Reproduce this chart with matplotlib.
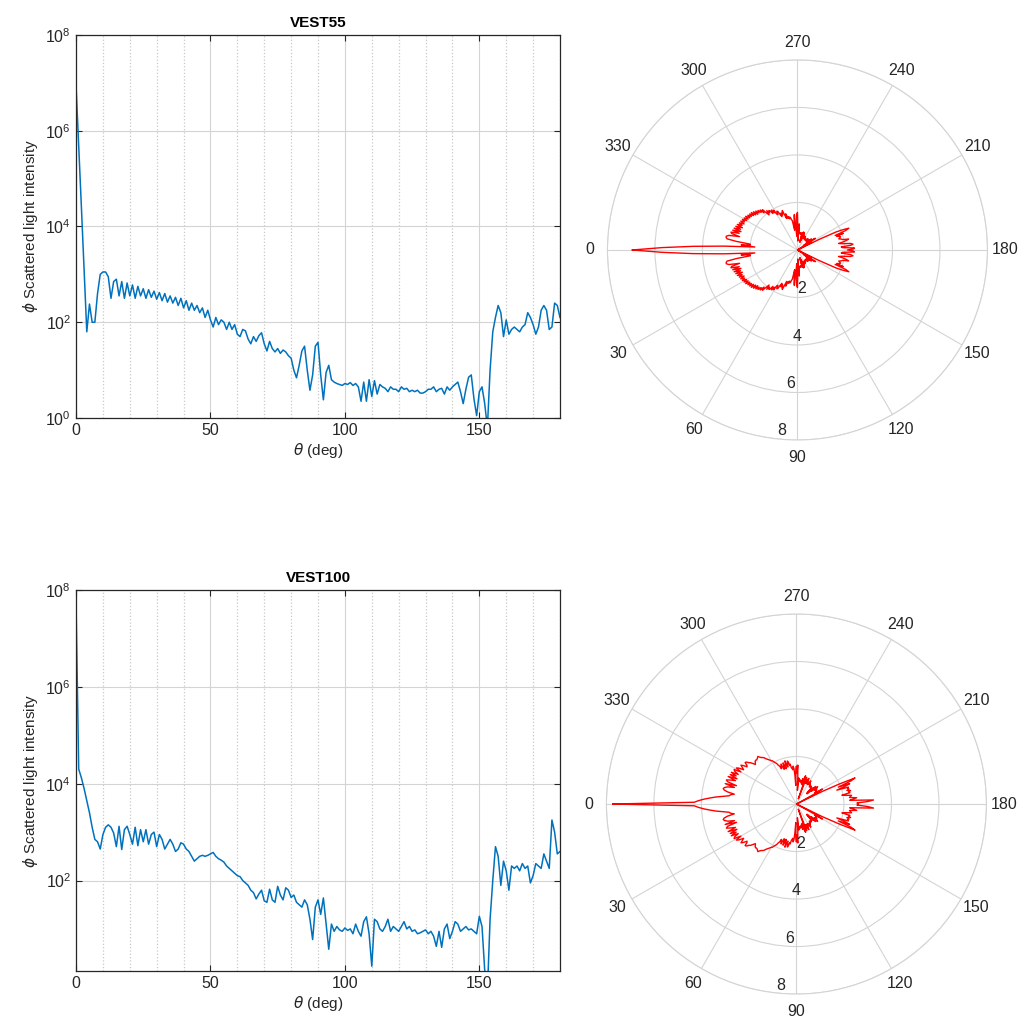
import numpy as np
import matplotlib.pyplot as plt
from matplotlib.ticker import NullLocator

plt.rcParams['font.family'] = ['Liberation Sans', 'DejaVu Sans']
plt.rcParams['font.size'] = 11

# scattering angle, 1 degree steps
theta = np.arange(0, 181)

# log10 of scattered intensity, VEST55
vest55_log = [
    6.95, 5.7, 4.4, 3.1, 1.8, 2.38, 2.0, 2.0, 2.6, 3.0,
    3.05, 3.05, 2.95, 2.5, 2.85, 2.9, 2.55, 2.85, 2.5, 2.82,
    2.55, 2.78, 2.5, 2.75, 2.55, 2.7, 2.5, 2.68, 2.52, 2.65,
    2.48, 2.62, 2.45, 2.6, 2.42, 2.55, 2.4, 2.52, 2.35, 2.5,
    2.3, 2.45, 2.25, 2.4, 2.25, 2.35, 2.2, 2.3, 2.1, 2.25,
    2.05, 1.9, 2.1, 1.95, 2.05, 2.0, 1.85, 2.0, 1.85, 1.95,
    1.75, 1.7, 1.85, 1.82, 1.65, 1.55, 1.7, 1.6, 1.72, 1.78,
    1.55, 1.4, 1.6, 1.45, 1.38, 1.45, 1.35, 1.42, 1.38, 1.3,
    1.25, 1.0, 0.84, 1.1, 1.4, 1.5, 1.0, 0.58, 0.9, 1.5,
    1.58, 0.9, 0.38, 0.95, 1.1, 0.8, 0.75, 0.72, 0.7, 0.68,
    0.72, 0.7, 0.74, 0.68, 0.72, 0.65, 0.35, 0.75, 0.35, 0.8,
    0.45, 0.78, 0.5, 0.7, 0.65, 0.62, 0.55, 0.65, 0.6, 0.6,
    0.55, 0.65, 0.6, 0.62, 0.55, 0.58, 0.55, 0.58, 0.52, 0.52,
    0.55, 0.6, 0.6, 0.65, 0.55, 0.6, 0.62, 0.5, 0.65, 0.58,
    0.65, 0.7, 0.75, 0.55, 0.3, 0.6, 0.85, 0.9, 0.4, 0.05,
    0.55, 0.65, 0.3, -0.2, 1.0, 1.8, 2.1, 2.35, 2.2, 1.7,
    2.05, 1.75, 1.85, 1.9, 1.85, 1.8, 1.9, 1.95, 2.2, 2.1,
    1.95, 1.75, 1.9, 2.25, 2.35, 2.25, 1.85, 1.9, 2.4, 2.35,
    2.1,
]

# log10 of scattered intensity, VEST100
vest100_log = [
    7.73, 4.3, 4.12, 3.9, 3.65, 3.4, 3.1, 2.85, 2.8, 2.65,
    2.95, 3.1, 3.15, 3.1, 2.98, 2.7, 3.12, 2.64, 3.05, 3.12,
    2.95, 2.75, 3.1, 2.72, 3.05, 2.8, 3.05, 2.75, 2.95, 3.0,
    2.7, 2.95, 2.85, 2.65, 2.75, 2.85, 2.75, 2.6, 2.65, 2.78,
    2.75, 2.65, 2.6, 2.5, 2.4, 2.45, 2.5, 2.52, 2.5, 2.52,
    2.55, 2.58, 2.5, 2.45, 2.42, 2.38, 2.3, 2.25, 2.2, 2.15,
    2.1, 2.08, 2.0, 1.95, 1.9, 1.8, 1.75, 1.62, 1.72, 1.8,
    1.58, 1.55, 1.82, 1.6, 1.55, 1.88, 1.7, 1.6, 1.85, 1.8,
    1.65, 1.7, 1.55, 1.5, 1.45, 1.6, 1.5, 1.2, 0.78, 1.45,
    1.6, 1.3, 1.64, 1.1, 0.58, 1.1, 0.95, 1.05, 0.98, 0.95,
    1.02, 0.97, 1.0, 0.9, 1.1, 0.95, 0.85, 1.15, 1.25, 0.9,
    0.23, 1.2, 1.15, 1.0, 0.95, 1.05, 1.2, 0.95, 1.05, 1.0,
    0.95, 1.05, 1.15, 1.0, 1.05, 0.95, 0.98, 0.9, 0.92, 0.95,
    0.98, 0.9, 0.95, 0.85, 0.64, 0.95, 0.62, 1.0, 1.1, 0.8,
    0.95, 1.15, 1.1, 0.95, 1.0, 1.05, 0.98, 1.0, 0.95, 0.9,
    1.26, 1.05, 0.15, -0.3, 1.2, 2.0, 2.7, 2.5, 1.9, 2.4,
    2.2, 1.8, 2.3, 2.25, 2.3, 2.2, 2.35, 2.25, 2.3, 1.95,
    2.1, 2.35, 2.3, 2.25, 2.55, 2.4, 2.25, 3.25, 3.0, 2.55,
    2.6,
]

titles = ['VEST55', 'VEST100']
ylims = [(1.0, 1e8), (10 ** 0.13, 1e8)]
yticks = [[1, 1e2, 1e4, 1e6, 1e8], [1e2, 1e4, 1e6, 1e8]]
theta_labels = [str(a) for a in range(0, 360, 30)]
ring_values = [2, 4, 6, 8]

line_blue = '#0072BD'
grid_gray = '#d4d4d4'
text_gray = '#262626'

fig = plt.figure(figsize=(10.26, 10.23), dpi=100)

cart_boxes = [[0.0741, 0.5914, 0.4717, 0.3744], [0.0741, 0.0508, 0.4717, 0.3724]]
polar_boxes = [[0.5916, 0.5699, 0.3713, 0.3715], [0.5906, 0.0283, 0.3713, 0.3715]]

for i, logI in enumerate([vest55_log, vest100_log]):
    logI = np.array(logI)

    # intensity vs angle on a log scale
    ax = fig.add_axes(cart_boxes[i])
    ax.semilogy(theta, 10 ** logI, color=line_blue, lw=1.1)
    ax.set_xlim(0, 180)
    ax.set_ylim(*ylims[i])
    ax.set_xticks([0, 50, 100, 150])
    ax.set_xticks(np.arange(0, 181, 10), minor=True)
    ax.set_yticks(yticks[i])
    ax.yaxis.set_minor_locator(NullLocator())
    ax.grid(which='major', color=grid_gray, lw=0.8)
    ax.grid(which='minor', axis='x', color='#c8c8c8', ls=':', lw=0.9)
    ax.set_axisbelow(True)
    ax.tick_params(which='major', direction='in', top=True, right=True,
                   length=4, labelsize=11.5, colors=text_gray)
    ax.tick_params(which='minor', length=0)
    for sp in ax.spines.values():
        sp.set_color('#262626')
        sp.set_linewidth(0.9)
    ax.set_title(titles[i], fontsize=11, fontweight='bold', pad=6)
    ax.set_xlabel(r'$\theta$ (deg)', fontsize=11, color=text_gray, labelpad=2)
    ax.set_ylabel(r'$\phi$ Scattered light intensity', fontsize=11,
                  color=text_gray, labelpad=4)

    # polar view, mirrored over the full circle
    th_full = np.concatenate([theta, 360 - theta[::-1]])
    r_full = np.concatenate([logI, logI[::-1]])
    pax = fig.add_axes(polar_boxes[i], projection='polar')
    pax.set_theta_zero_location('W')
    pax.set_theta_direction(1)
    pax.plot(np.deg2rad(th_full), np.clip(r_full, 0, None), color='red', lw=1.0)
    pax.set_rlim(0, 8)
    pax.set_rgrids(ring_values, labels=[''] * len(ring_values))
    pax.set_thetagrids(range(0, 360, 30), labels=theta_labels)
    pax.grid(color=grid_gray, lw=0.8)
    pax.spines['polar'].set_color(grid_gray)
    pax.tick_params(axis='x', pad=2, labelsize=11.5, colors=text_gray)
    for ang, rv in zip([96, 90, 87, 85], ring_values):
        pax.text(np.deg2rad(ang), rv - 0.35, str(rv), ha='center',
                 va='center', fontsize=11.5, color=text_gray)

fig.savefig('out.png', dpi=100, facecolor='white')
